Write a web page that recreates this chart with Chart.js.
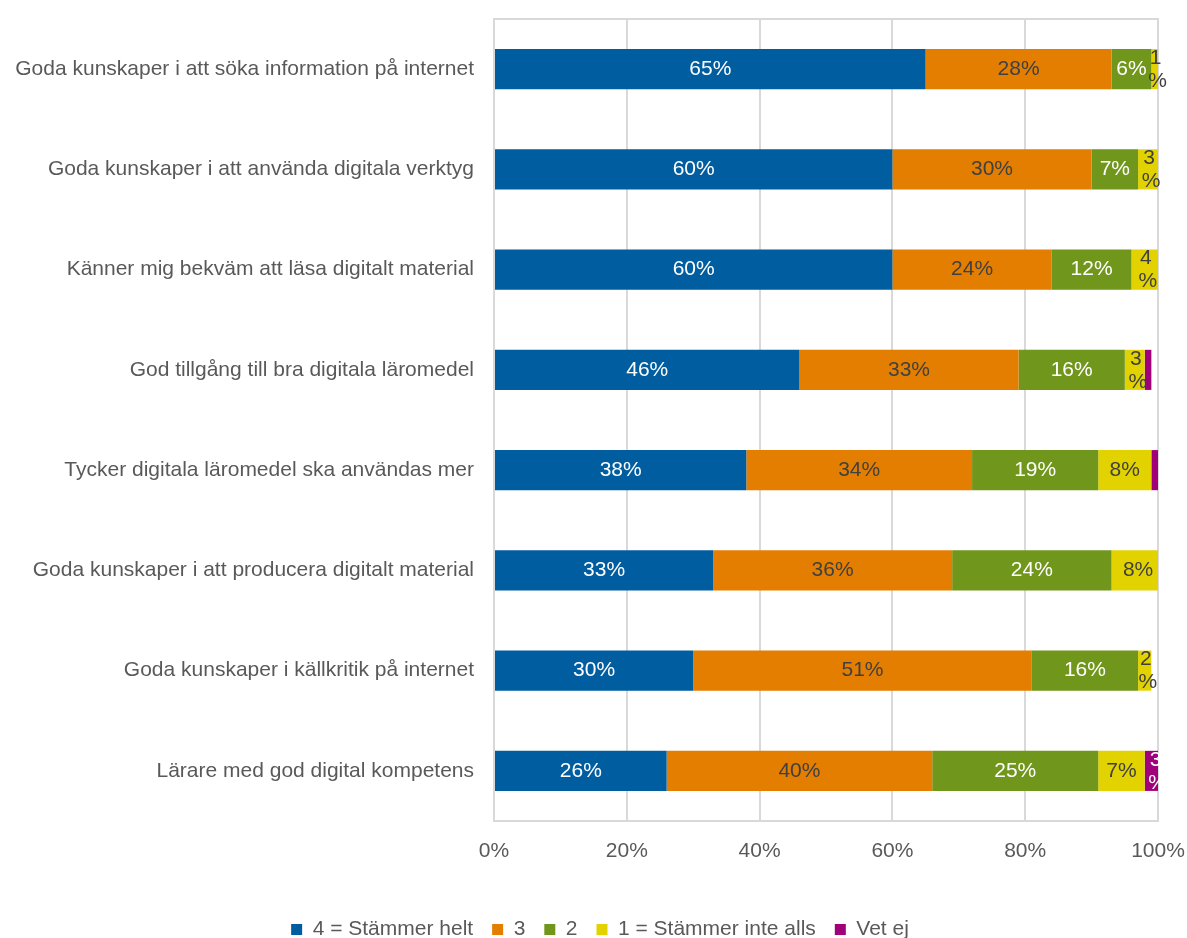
<!DOCTYPE html>
<html>
<head>
<meta charset="utf-8">
<script src="https://cdn.jsdelivr.net/npm/chart.js@4.4.1/dist/chart.umd.min.js"></script>
<style>
  html, body { margin: 0; padding: 0; background: #ffffff; }
  #wrap { width: 1187px; height: 938px; position: relative; }
</style>
</head>
<body>
<div id="wrap"><canvas id="chart"></canvas></div>
<script>
const categories = [
  "Goda kunskaper i att söka information på internet",
  "Goda kunskaper i att använda digitala verktyg",
  "Känner mig bekväm att läsa digitalt material",
  "God tillgång till bra digitala läromedel",
  "Tycker digitala läromedel ska användas mer",
  "Goda kunskaper i att producera digitalt material",
  "Goda kunskaper i källkritik på internet",
  "Lärare med god digital kompetens"
];

const seriesNames = ["4 = Stämmer helt", "3", "2", "1 = Stämmer inte alls", "Vet ej"];
const seriesColors = ["#005DA0", "#E37E00", "#70961B", "#E2D300", "#A1007B"];
const labelColors = ["#ffffff", "#404040", "#ffffff", "#404040", "#ffffff"];

const stammerHelt = [65, 60, 60, 46, 38, 33, 30, 26];
const tre = [28, 30, 24, 33, 34, 36, 51, 40];
const tva = [6, 7, 12, 16, 19, 24, 16, 25];
const stammerInte = [1, 3, 4, 3, 8, 8, 2, 7];
const vetEj = [0, 0, 0, 1, 1, 0, 0, 3];

const xTicks = [0, 20, 40, 60, 80, 100];

const FONT = "'Liberation Sans', Arial, sans-serif";
const TEXT = "#595959";
const GRID = "#D9D9D9";

const seriesValues = [stammerHelt, tre, tva, stammerInte, vetEj];

// percent labels inside the segments, narrow ones wrap to two lines
const segmentLabels = {
  id: "segmentLabels",
  afterDatasetsDraw(chart) {
    const ctx = chart.ctx;
    ctx.save();
    ctx.font = "21px " + FONT;
    ctx.textAlign = "center";
    ctx.textBaseline = "middle";
    chart.data.datasets.forEach((ds, di) => {
      const meta = chart.getDatasetMeta(di);
      meta.data.forEach((bar, i) => {
        const v = ds.data[i];
        if (!v) return;
        if (di === 4 && v < 2) return;
        const left = Math.min(bar.x, bar.base);
        const right = Math.max(bar.x, bar.base);
        const cx = (left + right) / 2;
        const txt = v + "%";
        ctx.fillStyle = labelColors[di];
        if (ctx.measureText(txt).width + 4 <= right - left) {
          ctx.fillText(txt, cx, bar.y);
        } else {
          ctx.fillText(String(v), cx + 1, bar.y - 11);
          ctx.fillText("%", cx + 3, bar.y + 12);
        }
      });
    });
    ctx.restore();
  }
};

// legend sits a bit right of the canvas centre, like the original
const legendShift = {
  id: "legendShift",
  afterLayout(chart) {
    if (chart.legend) chart.legend.left += 42;
  }
};

new Chart(document.getElementById("chart").getContext("2d"), {
  type: "bar",
  data: {
    labels: categories,
    datasets: seriesNames.map((name, i) => ({
      label: name,
      data: seriesValues[i],
      backgroundColor: seriesColors[i],
      borderWidth: 0,
      barPercentage: 0.4,
      categoryPercentage: 1.0
    }))
  },
  options: {
    indexAxis: "y",
    responsive: true,
    maintainAspectRatio: false,
    animation: false,
    layout: { padding: { top: 19, right: 29, bottom: -12, left: 0 } },
    scales: {
      x: {
        stacked: true,
        min: 0,
        max: 100,
        afterBuildTicks: (scale) => {
          scale.ticks = xTicks.map((v) => ({ value: v }));
        },
        afterFit: (scale) => { scale.height = 79; },
        grid: { color: GRID, lineWidth: 2, drawTicks: true, tickLength: 18, tickColor: "rgba(0,0,0,0)" },
        border: { display: true, color: GRID, width: 2 },
        ticks: {
          color: TEXT,
          font: { family: FONT, size: 21 },
          padding: 0,
          callback: (v) => v + "%"
        }
      },
      xTop: {
        position: "top",
        min: 0,
        max: 100,
        grid: { display: false, drawTicks: false },
        border: { display: true, color: GRID, width: 2 },
        ticks: { display: false },
        afterFit: (scale) => { scale.height = 0; }
      },
      y: {
        stacked: true,
        afterFit: (scale) => { scale.width = 494; },
        grid: { display: false, drawTicks: true, tickLength: 20 },
        border: { display: false },
        ticks: {
          color: TEXT,
          font: { family: FONT, size: 21 },
          padding: 0
        }
      }
    },
    plugins: {
      legend: {
        position: "bottom",
        labels: {
          color: TEXT,
          font: { family: FONT, size: 21 },
          boxWidth: 11,
          boxHeight: 11,
          padding: 19
        }
      },
      tooltip: { enabled: false }
    }
  },
  plugins: [segmentLabels, legendShift]
});
</script>
</body>
</html>
